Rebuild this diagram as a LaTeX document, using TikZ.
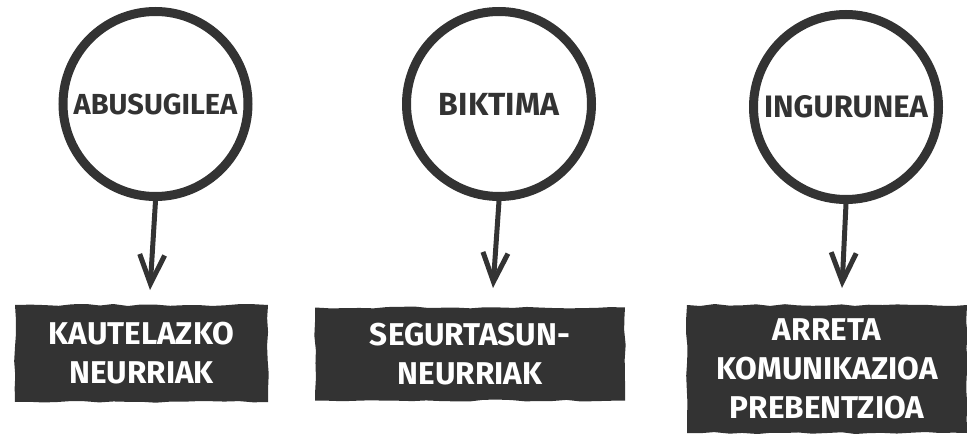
\documentclass[tikz,border=0pt]{standalone}
\usepackage{fontspec}
\setmainfont{Fira Sans}
\usetikzlibrary{arrows.meta,decorations.pathmorphing}
\definecolor{ink}{HTML}{333333}

\begin{document}
\begin{tikzpicture}[x=1pt, y=-1pt,
        ring/.style={draw=ink, line width=9pt, circle, minimum size=185pt, inner sep=0pt,
            text=ink, font=\bfseries\fontsize{29}{34}\selectfont},
        brush/.style={fill=ink, text=white, align=center, inner sep=0pt,
            font=\bfseries\fontsize{31.5}{39}\selectfont,
            decorate, decoration={random steps, segment length=14pt, amplitude=1pt}},
        pointer/.style={draw=ink, line width=5pt, shorten <=-6pt,
            -{Straight Barb[length=29pt, width=25pt]}}]
        \useasboundingbox (0,0) rectangle (967,436);
        \pgfmathsetseed{7}

        % Node definitions
        \node (abusugilea) [ring] at (155.5,104) {ABUSUGILEA};
        \node (biktima) [ring, font=\bfseries\fontsize{32}{34}\selectfont] at (499,104) {BIKTIMA};
        \node (ingurunea) [ring, font=\bfseries\fontsize{31}{34}\selectfont] at (846,107) {INGURUNEA};

        \node (kautela) [brush, minimum width=253pt, minimum height=97pt] at (141.5,353.5)
            {KAUTELAZKO\\NEURRIAK};
        \node (segurtasun) [brush, minimum width=310pt, minimum height=93pt] at (470,354)
            {SEGURTASUN-\\NEURRIAK};
        \node (arreta) [brush, minimum width=280pt, minimum height=128pt] at (827,369)
            {ARRETA\\KOMUNIKAZIOA\\PREBENTZIOA};

        % Arrow tips
        \coordinate (tipA) at (150,290);
        \coordinate (tipB) at (493,288);
        \coordinate (tipC) at (842,288);

        \draw[pointer] (abusugilea.south) -- (tipA);
        \draw[pointer] (biktima.south) -- (tipB);
        \draw[pointer] (ingurunea.south) -- (tipC);
    \end{tikzpicture}
\end{document}
